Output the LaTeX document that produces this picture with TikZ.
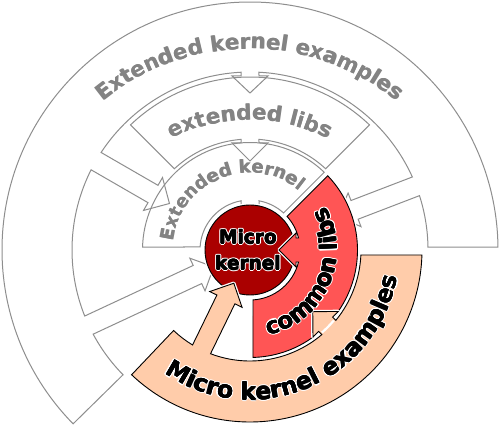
\documentclass[tikz,border=0pt]{standalone}
\usepackage{fontspec}
\newfontfamily\dvs{DejaVu Sans}
\usetikzlibrary{calc,decorations.text}
\definecolor{linegray}{HTML}{8E8E8E}
\definecolor{textgray}{HTML}{838383}
\definecolor{mkred}{HTML}{AA0000}
\definecolor{clred}{HTML}{FF5555}
\definecolor{mkepeach}{HTML}{FFCCAA}
\newcommand\outerfont{\dvs\bfseries\fontsize{21.3}{25}\selectfont}
\newcommand\ekfont{\dvs\bfseries\fontsize{18}{22}\selectfont}
\newcommand\mkefont{\dvs\bfseries\fontsize{23.5}{27}\selectfont}
\newcommand\clfont{\dvs\bfseries\fontsize{23}{26}\selectfont}
\newcommand\mkfont{\dvs\bfseries\fontsize{18.5}{26}\selectfont}
\tikzset{
  arr/.style n args={7}{insert path={
    arc[start angle={#1}, end angle={#2+asin(#4/#3)}, radius=#3]
    -- ($(#2:#5)+({#2+90}:#4)$)
    -- ($(#2:#5)+({#2+90}:#6)$)
    -- (#2:#7)
    -- ($(#2:#5)+({#2-90}:#6)$)
    -- ($(#2:#5)+({#2-90}:#4)$)
    -- ({#2-asin(#4/#3)}:#3)}},
  wshape/.style={draw=linegray, line width=1, line join=miter},
  cshape/.style={preaction={draw=white, line width=3.5, line join=round}, fill=#1, draw=black, line width=0.9, line join=miter},
  grtext/.style n args={2}{decorate, decoration={text along path, text align=center, text color=textgray, text={|#1|#2}}},
  bltext/.style n args={3}{decorate, decoration={text along path, text align=center, text color=#1, text={|#2|#3}}},
}
\begin{document}
\begin{tikzpicture}[x=1pt,y=1pt]
\useasboundingbox (-250,-175) rectangle (250,250);
\fill[white] (-250,-175) rectangle (250,250);

% Extended kernel examples (outer ring)
\draw[wshape] ({asin(3/248)}:248) arc[start angle={asin(3/248)}, end angle=224.5, radius=248]
  -- (224.5:178)
  [arr={224.5}{205}{178}{10}{58}{18}{40}]
  [arr={205-asin(10/178)}{150}{178}{10}{112}{19}{93}]
  [arr={150-asin(10/178)}{90}{178}{9}{174}{18}{157}]
  [arr={90-asin(9/178)}{21}{178}{10}{112}{18}{94}]
  arc[start angle={21-asin(10/178)}, end angle={asin(3/178)}, radius=178] -- cycle;

% extended libs
\draw[wshape] ({45+asin(4/173)}:173) arc[start angle={45+asin(4/173)}, end angle={135-asin(4/173)}, radius=173]
  -- ({135-asin(4/111)}:111)
  [arr={135-asin(4/111)}{90}{111}{9}{107}{18}{89}]
  arc[start angle={90-asin(9/111)}, end angle={45+asin(4/111)}, radius=111] -- cycle;

% Extended kernel
\draw[wshape] ({45+asin(2.5/107.5)}:107.5) arc[start angle={45+asin(2.5/107.5)}, end angle={180-asin(3/107.5)}, radius=107.5]
  -- ({180-asin(3/50)}:50)
  [arr={180-asin(3/50)}{90}{50}{9}{42}{18}{24}]
  arc[start angle={90-asin(9/50)}, end angle={45+asin(2.5/50)}, radius=50] -- cycle;

% Micro kernel
\path[cshape=mkred] (0,0) circle[radius=45];

% common libs
\path[cshape=clred] ({-90+asin(3/107.5)}:107.5) arc[start angle={-90+asin(3/107.5)}, end angle={45-asin(2.5/107.5)}, radius=107.5]
  -- ({45-asin(2.5/50)}:50)
  [arr={45-asin(2.5/50)}{0}{50}{12}{46}{17}{29}]
  arc[start angle={0-asin(12/50)}, end angle={-90+asin(3/50)}, radius=50] -- cycle;

% Micro kernel examples
\path[cshape=mkepeach] (226.5:172) arc[start angle=226.5, end angle={360-asin(5/172)}, radius=172]
  -- ({360-asin(5/111)}:111)
  [arr={360-asin(5/111)}{315.5}{111}{10}{106}{18}{88}]
  [arr={315.5-asin(10/111)}{244}{111}{10}{55}{18}{37}]
  arc[start angle={244-asin(10/111)}, end angle=226.5, radius=111] -- cycle;
\draw[white, line width=2.2] ({315.5+asin(8.5/109.5)}:109.5) arc[start angle={315.5+asin(8.5/109.5)}, end angle={315.5-asin(8.5/109.5)}, radius=109.5];

% gray texts (slightly emboldened)
\foreach \gx in {-0.3, 0.3} {
  \path[shift={(\gx,0)}, grtext={\outerfont}{Extended kernel examples}] ($(0,-30)+(150:231)$) arc[start angle=150, end angle=30, radius=231];
  \path[shift={(\gx,0)}, grtext={\outerfont}{extended libs}] ($(0,-40)+(140:170)$) arc[start angle=140, end angle=40, radius=170];
  \path[shift={(\gx,0)}, grtext={\ekfont}{Extended kernel}] (195:77) arc[start angle=195, end angle=29, radius=77];
}

% black texts with white halo
\foreach \hx/\hy in {1.4/0, -1.4/0, 0/1.4, 0/-1.4, 1/1, -1/1, 1/-1, -1/-1} {
  \path[shift={(\hx,\hy)}, bltext={white}{\clfont}{common libs}] (-102:87) arc[start angle=-102, end angle=54, radius=87];
  \path[shift={(\hx,\hy)}, bltext={white}{\mkefont}{Micro kernel examples}] (200:150) arc[start angle=200, end angle=385, radius=150];
  \node[shift={(\hx,\hy)}, font=\mkfont, align=center, inner sep=0, text=white] at (-2,0) {Micro\\kernel};
}
\foreach \bx/\by in {0.3/0, -0.3/0, 0/0.3, 0/-0.3} {
  \path[shift={(\bx,\by)}, bltext={black}{\clfont}{common libs}] (-102:87) arc[start angle=-102, end angle=54, radius=87];
  \path[shift={(\bx,\by)}, bltext={black}{\mkefont}{Micro kernel examples}] (200:150) arc[start angle=200, end angle=385, radius=150];
  \node[shift={(\bx,\by)}, font=\mkfont, align=center, inner sep=0, text=black] at (-2,0) {Micro\\kernel};
}
\node[font=\mkfont, align=center, inner sep=0, text=black] (mk) at (-2,0) {Micro\\kernel};
\end{tikzpicture}
\end{document}
